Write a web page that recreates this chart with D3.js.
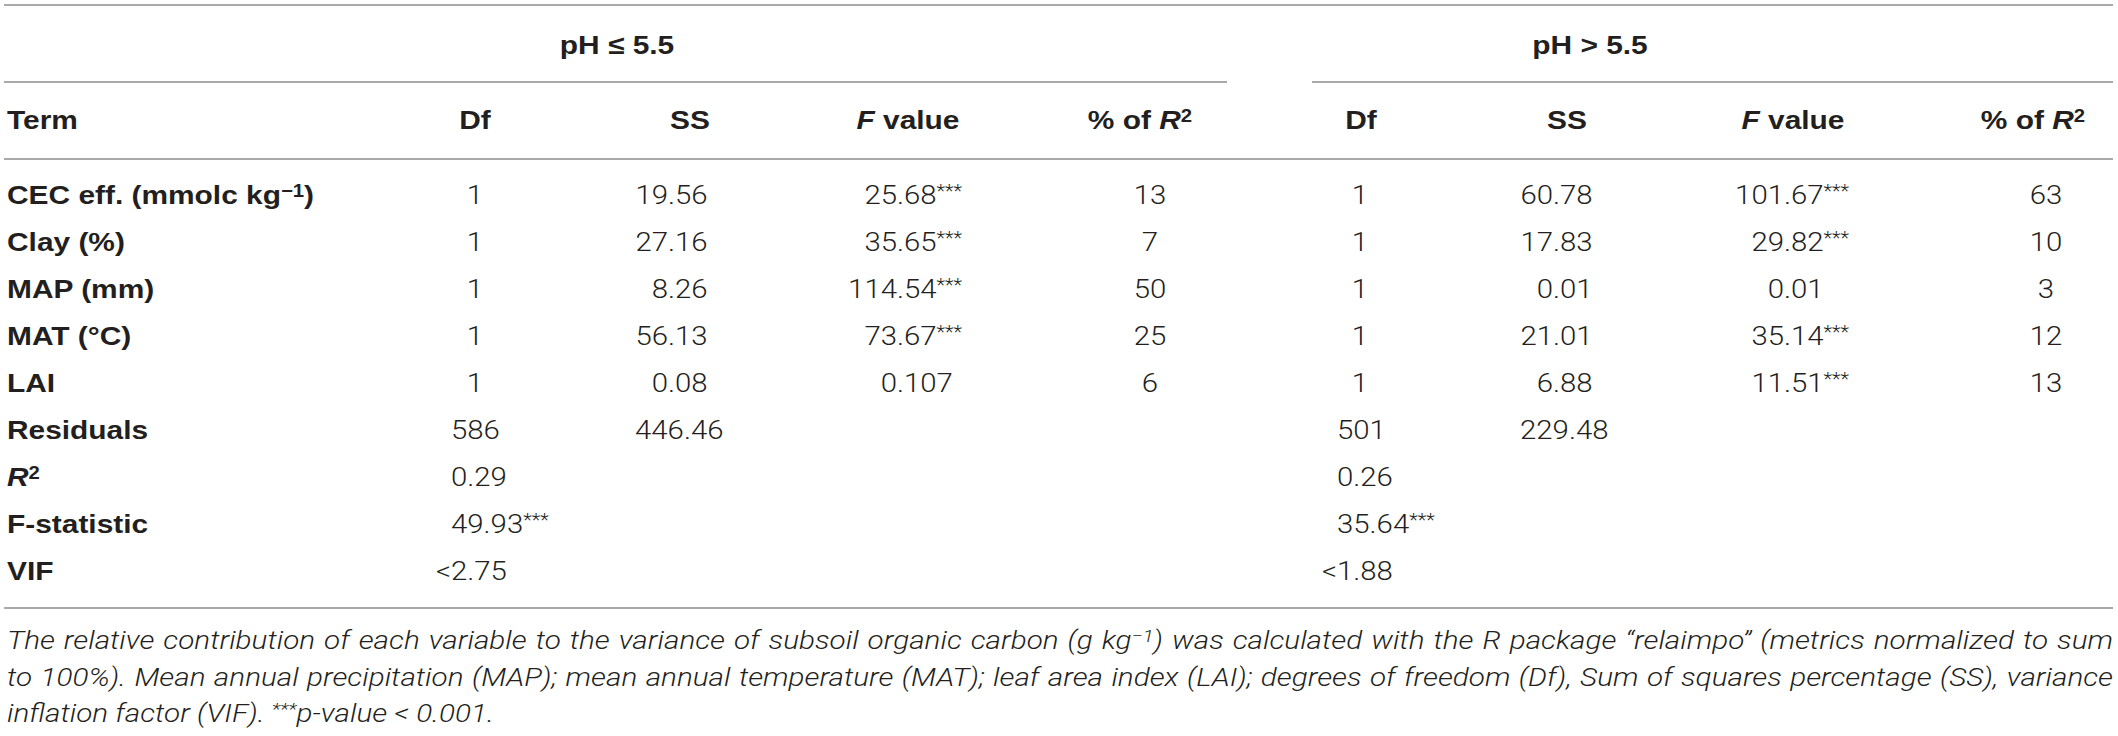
<!DOCTYPE html>
<html lang="en">
<head>
<meta charset="utf-8">
<title>Relative importance of soil and climate variables</title>
<script src="https://cdn.jsdelivr.net/npm/d3@7"></script>
<style>
body { margin: 0; background: #fff; }
svg text { fill: #231f20; }
.bold { font-family: "Liberation Sans", Arial, sans-serif; font-weight: 700; }
.num { font-family: Roboto, "Liberation Sans", sans-serif; font-weight: 300; }
.note { font-family: Roboto, "Liberation Sans", sans-serif; font-weight: 300; font-style: italic; }
</style>
</head>
<body>
<script>
// table content
var groupLabels = ["pH \u2264 5.5", "pH > 5.5"];
var colHeads = ["Df", "SS", "_F_ value", "% of _R_^2^"];
var termLabels = ["CEC eff. (mmolc kg^\u22121^)", "Clay (%)", "MAP (mm)", "MAT (\u00B0C)", "LAI"];
var fitLabels = ["Residuals", "_R_^2^", "F-statistic", "VIF"];

var lowDf = ["1", "1", "1", "1", "1"];
var lowSS = ["19.56", "27.16", "8.26", "56.13", "0.08"];
var lowF = ["25.68***", "35.65***", "114.54***", "73.67***", "0.107"];
var lowR2 = ["13", "7", "50", "25", "6"];
var lowFit = [["586", "446.46"], ["0.29"], ["49.93***"], ["<2.75"]];

var highDf = ["1", "1", "1", "1", "1"];
var highSS = ["60.78", "17.83", "0.01", "21.01", "6.88"];
var highF = ["101.67***", "29.82***", "0.01", "35.14***", "11.51***"];
var highR2 = ["63", "10", "3", "12", "13"];
var highFit = [["501", "229.48"], ["0.26"], ["35.64***"], ["<1.88"]];

var noteLines = [
  "The relative contribution of each variable to the variance of subsoil organic carbon (g kg^\u22121^) was calculated with the R package \u201Crelaimpo\u201D (metrics normalized to sum",
  "to 100%). Mean annual precipitation (MAP); mean annual temperature (MAT); leaf area index (LAI); degrees of freedom (Df), Sum of squares percentage (SS), variance",
  "inflation factor (VIF). ^***^p-value < 0.001."
];

var w = 2118, h = 736;
var fs = 26, sxBold = 1.15, sxNum = 1.13;
var left = 4, right = 2113;

var svg = d3.select("body").append("svg").attr("width", w).attr("height", h);

// column positions for each group: header centre, decimal anchor, left edge of fit rows
var cols = [
  {head: [475, 1361], anchor: [483, 1368], fit: [451, 1337]},
  {head: [690, 1567], anchor: [668, 1553], fit: [635, 1520]},
  {head: [908, 1793], anchor: [897, 1784]},
  {head: [1140, 2033], mid: [1150, 2046]}
];

var rows = termLabels.concat(fitLabels);
var y = d3.scalePoint().domain(rows).range([195, 571]);
var base = function(c) { return c + 0.36 * fs; };

// small rich text: _italic_ and ^superscript^
function rich(t, str) {
  str.split(/(\^[^\^]*\^|_[^_]*_)/).filter(function(s) { return s.length; }).forEach(function(p) {
    var ts = t.append("tspan");
    if (p[0] == "^") ts.text(p.slice(1, -1)).attr("font-size", "68%").attr("baseline-shift", "42%");
    else if (p[0] == "_") ts.text(p.slice(1, -1)).attr("font-style", "italic");
    else ts.text(p);
  });
  return t;
}
function numStr(str) {
  // stars become superscript
  return str.replace(/\*\*\*$/, "^***^");
}

var meas = svg.append("text").attr("class", "num").attr("font-size", fs).attr("visibility", "hidden");
function width(s) { meas.text(s); return meas.node().getComputedTextLength() * sxNum; }

function put(cls, x, yy, sx, anchor, str) {
  var t = svg.append("text").attr("class", cls).attr("font-size", fs)
    .attr("text-anchor", anchor)
    .attr("transform", "translate(" + x + "," + yy + ") scale(" + sx + ",1)");
  return rich(t, str);
}

// rules
var rules = [
  {y: 5, x0: left, x1: right},
  {y: 82, x0: left, x1: 1227},
  {y: 82, x0: 1312, x1: right},
  {y: 159, x0: left, x1: right},
  {y: 608, x0: left, x1: right}
];
svg.selectAll("line.rule").data(rules).enter().append("line")
  .attr("class", "rule")
  .attr("x1", function(d) { return d.x0; }).attr("x2", function(d) { return d.x1; })
  .attr("y1", function(d) { return d.y; }).attr("y2", function(d) { return d.y; })
  .attr("stroke", "#8c8c8c").attr("stroke-width", 1.7);

// group headers
var groupX = [617, 1590];
groupLabels.forEach(function(g, i) { put("bold", groupX[i], base(45), sxBold, "middle", g); });

// column headers
put("bold", 7, base(120), sxBold, "start", "Term");
[0, 1].forEach(function(g) {
  colHeads.forEach(function(c, j) { put("bold", cols[j].head[g], base(120), sxBold, "middle", c); });
});

// row labels
rows.forEach(function(r) { put("bold", 7, base(y(r)), sxBold, "start", r); });

// term rows, decimal aligned
var groupsData = [
  {df: lowDf, ss: lowSS, f: lowF, r2: lowR2, fit: lowFit},
  {df: highDf, ss: highSS, f: highF, r2: highR2, fit: highFit}
];
groupsData.forEach(function(gd, g) {
  [gd.df, gd.ss, gd.f].forEach(function(vals, j) {
    vals.forEach(function(v, i) {
      var intPart = v.replace(/\*/g, "").split(".")[0];
      var x = cols[j].anchor[g] - width(intPart);
      put("num", x, base(y(termLabels[i])), sxNum, "start", numStr(v));
    });
  });
  gd.r2.forEach(function(v, i) {
    put("num", cols[3].mid[g], base(y(termLabels[i])), sxNum, "middle", v);
  });
  // fit rows, left aligned, "<" hangs into the margin
  gd.fit.forEach(function(vals, i) {
    vals.forEach(function(v, j) {
      var x = cols[j].fit[g];
      if (v[0] == "<") x -= width("<");
      put("num", x, base(y(fitLabels[i])), sxNum, "start", numStr(v));
    });
  });
});

// footnote: stretch so the fuller line fits, then justify the first two lines
var noteY = [649, 686, 722];
var noteFs = 25, target = right - 7;
var notes = noteLines.map(function(l, i) {
  return put("note", 7, noteY[i], 1, "start", l).attr("font-size", noteFs);
});
var gap = 0.25 * noteFs;
var sxNote = d3.min([0, 1], function(i) {
  var plain = noteLines[i].replace(/[\^_]/g, "");
  var n = plain.split(" ").length - 1;
  return target / (notes[i].node().getComputedTextLength() + n * 0.04 * noteFs);
});
notes.forEach(function(t, i) {
  t.attr("transform", "translate(7," + noteY[i] + ") scale(" + sxNote + ",1)");
  if (i < 2) {
    var plain = noteLines[i].replace(/[\^_]/g, "");
    var n = plain.split(" ").length - 1;
    var natural = t.node().getComputedTextLength();
    t.style("word-spacing", ((target / sxNote - natural) / n) + "px");
  }
});
meas.remove();
</script>
</body>
</html>
